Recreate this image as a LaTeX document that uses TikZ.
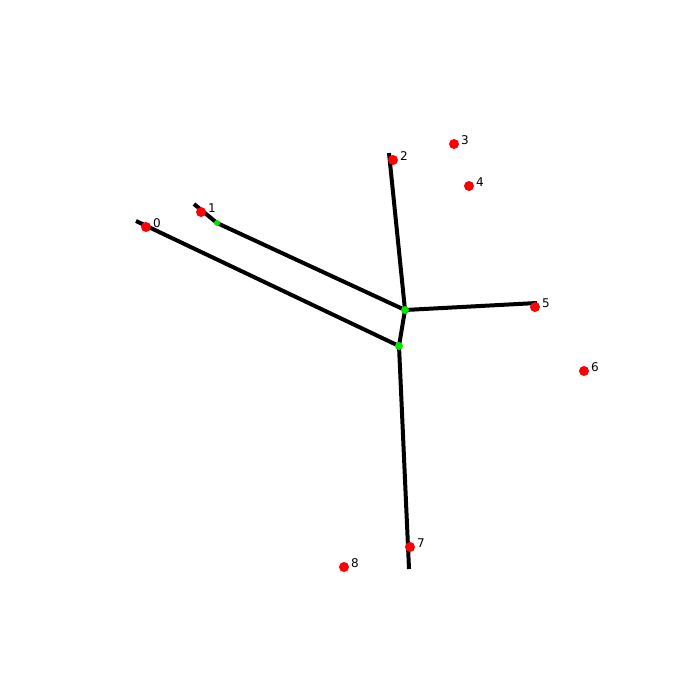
\documentclass[tikz,border=0pt]{standalone}
\usepackage{fontspec}
\setmainfont{DejaVu Sans}
\definecolor{lime}{RGB}{0,230,0}
\begin{document}
\begin{tikzpicture}[x=1pt,y=-1pt,
  reddot/.style={circle,fill=red,inner sep=0pt,minimum size=10pt},
  greendot/.style={circle,fill=lime,inner sep=0pt,minimum size=8pt},
  smallgreen/.style={circle,fill=lime,inner sep=0pt,minimum size=6pt},
  lbl/.style={font=\fontsize{12}{14}\selectfont,inner sep=0pt,anchor=center},
  limb/.style={line width=4pt,black}]
\useasboundingbox (0,0) rectangle (700,700);
\fill[white] (0,0) rectangle (700,700);
% skeleton endpoints / junctions
\coordinate (e0) at (136,221);
\coordinate (e1) at (194,204);
\coordinate (e2) at (389,153);
\coordinate (e5) at (537,303);
\coordinate (e7) at (409,569);
\coordinate (ja) at (405,310);
\coordinate (jb) at (399,346);
\coordinate (jc) at (217,223);
\draw[limb] (e0) -- (jb);
\draw[limb] (e1) -- (jc) -- (ja);
\draw[limb] (e2) -- (ja);
\draw[limb] (ja) -- (e5);
\draw[limb] (ja) -- (jb);
\draw[limb] (jb) -- (e7);
\node[greendot] (ga) at (ja) {};
\node[greendot] (gb) at (jb) {};
\node[smallgreen] (gc) at (jc) {};
% keypoints
\node[reddot] (p0) at (146,227) {};
\node[reddot] (p1) at (201,212) {};
\node[reddot] (p2) at (393,160) {};
\node[reddot] (p3) at (454,144) {};
\node[reddot] (p4) at (469,186) {};
\node[reddot] (p5) at (535,307) {};
\node[reddot] (p6) at (584,371) {};
\node[reddot] (p7) at (410,547) {};
\node[reddot] (p8) at (344,567) {};
\foreach \i in {0,...,8} {
  \node[lbl] (l\i) at ([shift={(11,-4)}]p\i) {\i};
}
\end{tikzpicture}
\end{document}
